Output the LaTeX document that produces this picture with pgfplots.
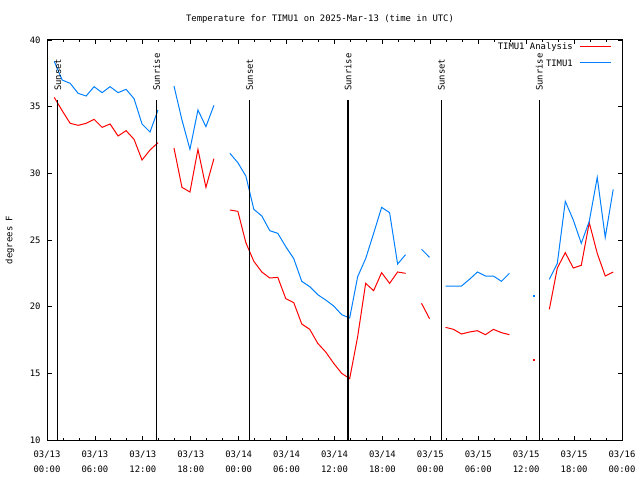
\documentclass[border=0pt]{standalone}
\usepackage{fontspec}
\setmainfont{DejaVu Sans Mono}
\usepackage{pgfplots}
\usepackage{pgfplotstable}
\pgfplotsset{compat=1.18}
\definecolor{tblue}{RGB}{0,128,255}
\definecolor{tred}{RGB}{255,0,0}

\pgfplotstableread{
t T
0.9 35.7
1.9 34.7
2.9 33.75
3.9 33.6
4.9 33.75
5.9 34.05
6.9 33.45
7.9 33.7
8.9 32.8
9.9 33.2
10.9 32.55
11.9 31.0
12.9 31.75
13.9 32.3
14.9 nan
15.9 31.9
16.9 28.95
17.9 28.6
18.9 31.8
19.9 28.95
20.9 31.1
21.9 nan
22.9 27.25
23.9 27.15
24.9 24.8
25.9 23.4
26.9 22.6
27.9 22.15
28.9 22.2
29.9 20.6
30.9 20.3
31.9 18.7
32.9 18.3
33.9 17.25
34.9 16.6
35.9 15.75
36.9 15.0
37.9 14.6
38.9 17.75
39.9 21.75
40.9 21.2
41.9 22.55
42.9 21.75
43.9 22.6
44.9 22.5
45.9 nan
46.9 20.25
47.9 19.1
48.9 nan
49.9 18.45
50.9 18.3
51.9 17.95
52.9 18.1
53.9 18.2
54.9 17.9
55.9 18.3
56.9 18.05
57.9 17.9
58.9 nan
62.9 19.8
63.9 22.9
64.9 24.05
65.9 22.9
66.9 23.1
67.9 26.3
68.9 24.0
69.9 22.3
70.9 22.6
}\analysis

\pgfplotstableread{
t T
0.9 38.4
1.9 37.0
2.9 36.75
3.9 36.0
4.9 35.8
5.9 36.5
6.9 36.05
7.9 36.5
8.9 36.05
9.9 36.3
10.9 35.6
11.9 33.7
12.9 33.1
13.9 34.75
14.9 nan
15.9 36.55
16.9 34.0
17.9 31.8
18.9 34.75
19.9 33.5
20.9 35.1
21.9 nan
22.9 31.5
23.9 30.8
24.9 29.8
25.9 27.3
26.9 26.8
27.9 25.7
28.9 25.5
29.9 24.5
30.9 23.6
31.9 21.9
32.9 21.5
33.9 20.9
34.9 20.5
35.9 20.05
36.9 19.4
37.9 19.15
38.9 22.25
39.9 23.6
40.9 25.5
41.9 27.45
42.9 27.05
43.9 23.2
44.9 23.9
45.9 nan
46.9 24.3
47.9 23.7
48.9 nan
49.9 21.55
50.9 21.55
51.9 21.55
52.9 22.05
53.9 22.6
54.9 22.3
55.9 22.3
56.9 21.9
57.9 22.5
58.9 nan
62.9 22.05
63.9 23.25
64.9 27.9
65.9 26.5
66.9 24.75
67.9 26.4
68.9 29.7
69.9 25.2
70.9 28.8
}\timu

\begin{document}
\begin{tikzpicture}[every node/.style={font=\fontsize{8.9}{15}\selectfont}]
\begin{axis}[
  scale only axis,
  width=575pt, height=400pt,
  xmin=0, xmax=72, ymin=10, ymax=40,
  axis line style={line width=1pt},
  xtick={0,6,...,72},
  xticklabels={{03/13\\00:00},{03/13\\06:00},{03/13\\12:00},{03/13\\18:00},{03/14\\00:00},{03/14\\06:00},{03/14\\12:00},{03/14\\18:00},{03/15\\00:00},{03/15\\06:00},{03/15\\12:00},{03/15\\18:00},{03/16\\00:00}},
  x tick label style={align=center, font=\fontsize{8.9}{15}\selectfont, yshift=-7pt},
  minor x tick num=2,
  ytick={10,15,...,40},
  y tick label style={font=\fontsize{8.9}{15}\selectfont, xshift=-3pt},
  /pgf/number format/assume math mode=true,
  tick style={black, line width=0.8pt},
  major tick length=4.5pt,
  minor tick length=2.5pt,
  tick align=inside,
  unbounded coords=jump,
  clip=false,
]
\path (axis description cs:-0.08174,-0.1) rectangle (axis description cs:1.0313,1.1);
\node at (axis description cs:0.4748,1.0525) {Temperature for TIMU1 on 2025-Mar-13 (time in UTC)};
\node[rotate=90] at (axis description cs:-0.0643,0.5) {degrees F};

\addplot[tred, line width=1pt] table[x=t,y=T] {\analysis};
\addplot[tblue, line width=1pt] table[x=t,y=T] {\timu};
\addplot[only marks, mark=square*, mark size=0.4pt, tred, forget plot] coordinates {(60.9,16.05)};
\addplot[only marks, mark=square*, mark size=0.4pt, tblue, forget plot] coordinates {(60.9,20.85)};

\foreach \s/\lab in {1.35/Sunset,13.73/Sunrise,25.38/Sunset,37.7/Sunrise,49.38/Sunset,61.66/Sunrise}{
  \edef\tmp{\noexpand\addplot[black, line width=1.4pt, forget plot] coordinates {(\s,10) (\s,35.5)};}\tmp
  \edef\tmp{\noexpand\node[rotate=90, anchor=west, inner sep=0pt, xshift=1pt] at (axis cs:\s,36.1) {\lab};}\tmp
}

% legend
\node[anchor=east, inner sep=0pt] at (axis description cs:0.9148,0.9825) {TIMU1 Analysis};
\node[anchor=east, inner sep=0pt] at (axis description cs:0.9148,0.9425) {TIMU1};
\draw[tred, line width=1pt] (axis description cs:0.9270,0.9825) -- (axis description cs:0.9809,0.9825);
\draw[tblue, line width=1pt] (axis description cs:0.9270,0.9425) -- (axis description cs:0.9809,0.9425);
\end{axis}
\end{tikzpicture}
\end{document}
